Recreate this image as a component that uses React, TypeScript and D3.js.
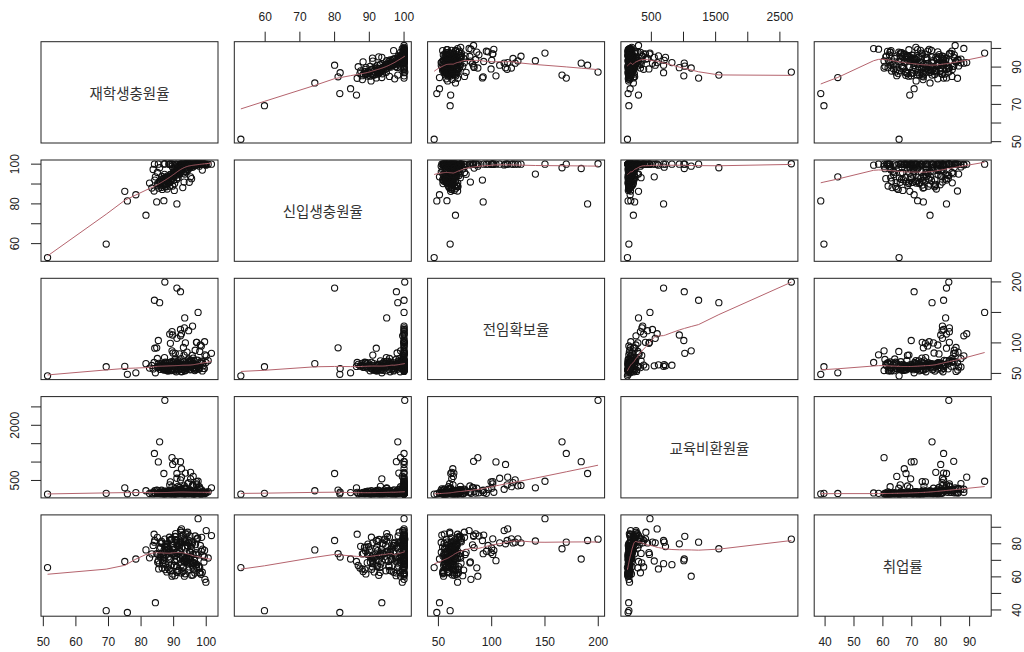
import React from 'react';
import * as d3 from 'd3';

// ---- data (one entry per university, same order in every array) ----
const varNames = ['재학생충원율', '신입생충원율', '전임확보율', '교육비환원율', '취업률'];

const enrolledRate = [
  51.3, 69.3, 75.8, 75.0, 78.4, 81.5, 84.4, 87.3, 85.7, 84.1,
  92.1, 91.0, 97.5, 93.4, 89.5, 90.5, 85.3, 89.7, 92.4, 99.9,
  101.6, 87.0, 84.8, 94.8, 95.2, 92.4, 87.0, 96.0, 91.0, 92.1,
  95.2, 93.6, 97.1, 89.0, 88.8, 89.5, 94.6, 93.3, 98.2, 99.5,
  92.1, 93.6, 84.2, 97.0, 95.8,
  88.5, 91.2, 94.7, 86.3, 97.8, 89.9, 92.6, 85.1, 95.3, 90.4,
  93.8, 87.6, 96.5, 91.9, 98.6, 88.1, 94.0, 86.9, 92.3, 97.1,
  90.8, 95.9, 89.2, 93.1, 98.9, 87.4, 91.5, 96.2, 85.8, 94.4,
  90.1, 97.5, 88.9, 93.5, 86.0, 95.0, 99.3, 91.0, 87.9, 94.9,
  92.0, 96.8, 89.6, 93.9, 85.4, 98.1, 90.6, 94.2, 88.2, 96.0,
  91.7, 87.1, 95.6, 92.9, 99.0, 89.4, 93.3, 86.6, 97.3, 90.9,
  94.6, 88.4, 96.9, 92.4, 85.6, 95.4, 90.3, 98.4, 87.8, 93.7,
  91.3, 96.4, 89.0, 94.8, 86.2, 97.7, 92.7, 88.7, 95.1, 90.0,
  99.6, 98.8, 100.0, 97.9, 83.3, 84.0, 82.6, 94.1, 96.6, 93.0,
  98.5, 91.8, 95.7, 87.2, 90.2, 92.8, 88.0, 86.4, 99.4, 100.6,
  97.0, 85.0, 93.2, 96.3, 89.8, 94.3, 91.4, 98.0, 83.7, 95.5,
  88.3, 91.6, 86.7, 94.5, 89.3, 92.2, 87.3, 95.8, 90.7, 85.9,
  93.4, 88.8, 91.1, 96.7, 87.0, 90.5, 94.0, 86.5, 92.5, 89.1,
  95.1, 88.0, 93.0, 90.3, 97.4, 86.8, 91.9, 89.7, 94.2, 87.5,
  92.8, 90.0, 95.5, 88.6, 93.6, 85.2, 91.4, 96.1, 89.4, 92.3,
  87.7, 94.9, 90.9, 86.1, 93.9,
];

const freshmanRate = [
  53.0, 59.8, 81.5, 86.3, 84.6, 74.3, 93.6, 100.2, 98.2, 100,
  97.8, 80.0, 100, 95.0, 99.0, 100, 100, 100, 100, 99.5,
  100, 81.6, 81.0, 90.9, 93.6, 100, 100, 99.5, 100, 100,
  100, 98.5, 100, 100, 100, 100, 100, 100, 100, 100,
  99.6, 100, 92.0, 100, 100,
  100, 96.4, 100, 92.5, 100, 94.1, 100, 90.3, 99.2, 97.7,
  100, 89.6, 100, 95.3, 100, 93.0, 100, 91.8, 98.6, 100,
  96.0, 100, 92.8, 99.0, 100, 88.7, 97.1, 100, 90.9, 100,
  95.7, 100, 94.6, 100, 89.1, 98.3, 100, 96.8, 91.4, 100,
  99.4, 100, 93.7, 100, 87.9, 100, 95.0, 100, 92.1, 99.8,
  97.5, 90.0, 100, 98.1, 100, 94.3, 100, 89.4, 100, 96.6,
  100, 93.4, 100, 98.9, 91.1, 100, 95.5, 100, 92.4, 100,
  97.9, 100, 94.8, 100, 88.3, 100, 99.1, 90.6, 100, 96.2,
  100, 97.0, 100, 99.0, 88.0, 86.5, 90.5, 100, 100, 100,
  100, 100, 99.7, 94.9, 86.8, 88.2, 87.5, 93.8, 100, 100,
  100, 95.8, 91.0, 100, 98.0, 100, 93.2, 100, 97.3, 92.7,
  93.5, 95.9, 90.8, 97.3, 92.2, 96.1, 89.8, 98.4, 94.4, 91.6,
  97.6, 88.9, 93.1, 99.3, 92.9, 95.2, 98.2, 87.3, 96.5, 91.3,
  98.8, 94.0, 95.6, 90.2, 99.6, 92.6, 97.0, 89.0, 96.9, 93.3,
  98.0, 91.9, 99.4, 90.7, 96.3, 89.5, 94.7, 99.0, 93.9, 97.8,
  88.6, 98.6, 92.3, 91.0, 96.0,
];

const facultyRate = [
  46.0, 61.0, 48.5, 61.5, 51.0, 66.0, 51.0, 199.8, 166.0, 170.0,
  184.0, 190.0, 150.0, 141.0, 87.0, 83.0, 104.0, 113.0, 115.0, 68.0,
  83.0, 58.0, 92.0, 57.0, 62.5, 63.5, 61.6, 64.0, 107.5, 122.0,
  62.5, 64.5, 101.0, 99.4, 114.5, 118.5, 120.0, 124.6, 96.6, 102.0,
  111.7, 100.0, 91.3, 101.0, 127.5,
  55.8, 64.2, 61.0, 63.5, 57.3, 66.9, 53.2, 59.1, 70.5, 72.8,
  58.7, 67.3, 54.6, 62.4, 69.9, 60.1, 65.6, 56.9, 74.3, 61.8,
  52.7, 63.1, 57.5, 59.9, 66.0, 68.4, 55.4, 71.2, 62.0, 64.8,
  56.3, 61.6, 60.5, 54.2, 65.3, 70.0, 58.2, 67.7, 55.1, 63.9,
  58.0, 59.4, 62.9, 61.3, 66.4, 68.8, 60.7, 57.7, 53.9, 75.1,
  60.9, 63.8, 67.0, 56.7, 62.2, 69.4, 54.8, 58.9, 71.6, 61.5,
  73.7, 62.6, 57.0, 52.6, 59.6, 65.1, 64.0, 66.7, 63.4, 55.6,
  65.9, 58.5, 54.5, 70.8, 61.9, 57.1, 62.8, 68.1, 56.0, 64.4,
  80.5, 54.0, 78.8, 59.5, 63.0, 68.0, 58.7, 85.0, 88.0, 92.5,
  95.0, 82.0, 79.5, 76.0, 64.8, 59.9, 61.8, 66.6, 58.0, 70.9,
  63.7, 74.5, 80.0, 56.2, 83.5, 60.6, 70.6, 86.0, 57.3, 65.0,
  60.3, 66.2, 57.8, 62.1, 54.9, 68.6, 63.2, 59.2, 65.4, 56.5,
  61.2, 67.8, 58.8, 64.6, 55.6, 70.2, 60.0, 62.4, 57.1, 66.0,
  63.0, 59.7, 69.1, 54.3, 61.9, 64.3, 58.3, 67.6, 62.7, 56.0,
  65.0, 60.9, 71.5, 58.0, 63.8, 61.3, 66.9, 59.0, 55.2, 64.9,
  60.1, 68.0, 57.6, 62.6, 65.7,
];

const eduReturnRate = [
  128, 150, 138, 300, 170, 220, 147, 2678, 1550, 1235,
  1012, 690, 478, 300, 1120, 1020, 1005, 935, 590, 160,
  300, 180, 240, 160, 545, 820, 690, 610, 560, 517,
  720, 700, 408, 462, 380, 330, 440, 353, 260, 180,
  261, 290, 220, 470, 365,
  182, 141, 168, 236, 150, 199, 270, 158, 176, 139,
  152, 212, 137, 171, 244, 160, 190, 147, 262, 165,
  174, 135, 225, 159, 196, 146, 241, 143, 168, 205,
  149, 178, 163, 140, 192, 253, 155, 218, 144, 186,
  230, 162, 187, 170, 151, 138, 282, 157, 209, 181,
  166, 197, 214, 148, 173, 237, 136, 156, 246, 164,
  145, 169, 185, 227, 153, 201, 161, 134, 193, 268,
  203, 160, 142, 233, 175, 154, 172, 221, 150, 188,
  150, 145, 178, 330, 160, 175, 146, 158, 165, 172,
  150, 310, 350, 205, 142, 156, 149, 168, 140, 195,
  380, 230, 187, 137, 198, 415, 340, 290, 141, 162,
  152, 171, 140, 184, 147, 193, 156, 166, 178, 143,
  161, 188, 149, 205, 139, 215, 158, 151, 145, 182,
  170, 148, 198, 137, 176, 163, 153, 190, 167, 141,
  180, 155, 226, 146, 173, 150, 186, 160, 138, 169,
  154, 195, 144, 158, 179,
];

const employmentRate = [
  65.6, 39.6, 38.5, 69.3, 70.8, 76.3, 44.4, 82.8, 77.0, 81.0,
  70.8, 82.0, 95.2, 81.7, 60.4, 84.5, 69.8, 80.0, 89.0, 56.8,
  85.0, 72.0, 74.0, 66.0, 69.6, 67.4, 68.0, 64.8, 80.6, 81.0,
  78.3, 81.0, 83.0, 74.7, 82.0, 83.0, 80.5, 83.0, 79.0, 76.0,
  88.0, 77.5, 82.0, 73.6, 80.6,
  77.2, 63.5, 70.8, 81.5, 66.1, 74.0, 85.3, 68.9, 72.4, 60.7,
  69.4, 79.8, 62.3, 75.6, 83.9, 65.7, 71.1, 73.8, 87.0, 67.5,
  74.9, 61.2, 82.6, 70.1, 76.8, 64.4, 80.2, 68.3, 72.7, 78.6,
  66.8, 73.2, 70.4, 61.9, 77.9, 84.7, 69.0, 79.1, 63.0, 75.3,
  81.0, 67.2, 75.0, 71.6, 64.8, 62.5, 86.2, 69.7, 78.0, 73.5,
  71.9, 76.3, 79.4, 65.5, 73.0, 82.8, 60.4, 68.6, 83.1, 70.7,
  64.1, 72.1, 74.6, 80.8, 67.9, 77.0, 69.3, 61.6, 75.9, 85.9,
  78.7, 70.0, 63.7, 81.9, 74.2, 66.5, 72.9, 84.0, 68.1, 76.4,
  58.5, 62.8, 88.0, 62.5, 73.9, 85.8, 71.5, 86.0, 84.7, 85.3,
  75.5, 79.4, 68.5, 74.8, 66.9, 63.2, 78.5, 80.4, 72.0, 71.4,
  66.0, 83.9, 69.0, 70.5, 77.7, 87.0, 74.2, 65.5, 79.0, 61.0,
  76.5, 63.9, 70.2, 80.9, 67.1, 73.3, 78.2, 66.6, 82.4, 71.8,
  69.5, 75.7, 62.7, 79.5, 73.1, 84.3, 68.4, 65.3, 77.4, 71.3,
  74.9, 80.0, 66.2, 72.6, 83.6, 69.9, 75.0, 61.8, 78.9, 67.8,
  72.1, 76.8, 81.2, 64.6, 70.6, 73.6, 79.1, 68.8, 74.0, 62.4,
  77.9, 71.0, 66.4, 80.6, 75.2,
];

// tick values for each variable, and which ones are labelled on each outer side
const tickValues = [
  [50, 60, 70, 80, 90, 100],
  [60, 70, 80, 90, 100],
  [50, 100, 150, 200],
  [500, 1000, 1500, 2000, 2500],
  [40, 50, 60, 70, 80, 90],
];
const topLabels: Record<number, number[]> = { 1: [60, 70, 80, 90, 100], 3: [500, 1500, 2500] };
const bottomLabels: Record<number, number[]> = { 0: [50, 60, 70, 80, 90, 100], 2: [50, 100, 150, 200], 4: [40, 50, 60, 70, 80, 90] };
const leftLabels: Record<number, number[]> = { 1: [60, 80, 100], 3: [500, 2000] };
const rightLabels: Record<number, number[]> = { 0: [50, 70, 90], 2: [50, 100, 200], 4: [40, 60, 80] };

// ---- layout ----
const W = 1024, H = 652;
const X0 = 41, DX = 193.3, PW = 177;
const Y0 = 41.7, DY = 118.3, PH = 101.3;
const TICK = 10;

const vars = [enrolledRate, freshmanRate, facultyRate, eduReturnRate, employmentRate];
const N = Math.min(...vars.map(v => v.length));
const data = vars.map(v => v.slice(0, N));

function expand(ext: [number, number]): [number, number] {
  const d = (ext[1] - ext[0]) * 0.04;
  return [ext[0] - d, ext[1] + d];
}

// R-style lowess (f = 2/3, iter = 3)
function lowess(xs: number[], ys: number[], f = 2 / 3, iter = 3): [number, number][] {
  const n = xs.length;
  const order = d3.range(n).sort((a, b) => xs[a] - xs[b]);
  const x = order.map(i => xs[i]);
  const y = order.map(i => ys[i]);
  const ns = Math.max(2, Math.min(n, Math.floor(f * n + 1e-7)));
  const range = x[n - 1] - x[0];
  let rw = new Array(n).fill(1);
  const fit = new Array(n).fill(0);
  for (let it = 0; it <= iter; it++) {
    let nleft = 0, nright = ns - 1;
    for (let i = 0; i < n; i++) {
      const xi = x[i];
      while (nright < n - 1 && xi - x[nleft] > x[nright + 1] - xi) { nleft++; nright++; }
      const h = Math.max(xi - x[nleft], x[nright] - xi);
      const h9 = 0.999 * h, h1 = 0.001 * h;
      const w: number[] = [];
      const js: number[] = [];
      let a = 0;
      for (let j = nleft; j < n; j++) {
        const r = Math.abs(x[j] - xi);
        if (r <= h9) {
          let wj = r <= h1 ? 1 : Math.pow(1 - Math.pow(r / h, 3), 3);
          wj *= rw[j];
          w.push(wj); js.push(j); a += wj;
        } else if (x[j] > xi) break;
      }
      if (a <= 0) { fit[i] = y[i]; continue; }
      for (let k = 0; k < w.length; k++) w[k] /= a;
      if (h > 0) {
        let mx = 0;
        for (let k = 0; k < w.length; k++) mx += w[k] * x[js[k]];
        let c = 0;
        for (let k = 0; k < w.length; k++) c += w[k] * (x[js[k]] - mx) ** 2;
        if (Math.sqrt(c) > 0.001 * range) {
          const b = (xi - mx) / c;
          for (let k = 0; k < w.length; k++) w[k] *= b * (x[js[k]] - mx) + 1;
        }
      }
      let s = 0;
      for (let k = 0; k < w.length; k++) s += w[k] * y[js[k]];
      fit[i] = s;
    }
    if (it === iter) break;
    const res = y.map((v, i) => v - fit[i]);
    const cmad = 6 * (d3.median(res.map(Math.abs)) as number);
    if (cmad < 1e-7) break;
    rw = res.map(r => {
      const ar = Math.abs(r);
      if (ar <= 0.001 * cmad) return 1;
      if (ar > 0.999 * cmad) return 0;
      return (1 - (ar / cmad) ** 2) ** 2;
    });
  }
  return x.map((v, i) => [v, fit[i]]);
}

const AXIS_FONT = "'Liberation Sans', Arial, sans-serif";
const LABEL_FONT = "'Noto Sans CJK KR', 'Noto Sans', sans-serif";
const INK = '#222';
const SMOOTH = '#b5646e';

export default function App() {
  const xs = data.map((v, k) =>
    d3.scaleLinear().domain(expand(d3.extent(v) as [number, number])).range([X0 + k * DX, X0 + k * DX + PW]));
  const ys = data.map((v, k) =>
    d3.scaleLinear().domain(expand(d3.extent(v) as [number, number])).range([Y0 + k * DY + PH, Y0 + k * DY]));

  const panels: React.ReactNode[] = [];
  const K = data.length;
  for (let i = 0; i < K; i++) {
    for (let j = 0; j < K; j++) {
      const px = X0 + j * DX, py = Y0 + i * DY;
      if (i === j) {
        panels.push(
          <g key={`d${i}`}>
            <rect x={px} y={py} width={PW} height={PH} fill="none" stroke={INK} strokeWidth={1} />
            <text x={px + PW / 2} y={py + PH / 2} textAnchor="middle" dominantBaseline="central"
              fontFamily={LABEL_FONT} fontSize={14.5} fill="#333">{varNames[i]}</text>
          </g>
        );
        continue;
      }
      const sx = xs[j], sy = ys[i];
      const smooth = lowess(data[j], data[i]);
      const line = d3.line<[number, number]>().x(d => sx(d[0])).y(d => sy(d[1]));
      panels.push(
        <g key={`p${i}-${j}`}>
          {data[j].map((xv, k) => (
            <circle key={k} cx={sx(xv)} cy={sy(data[i][k])} r={3.1} fill="none" stroke="#111" strokeWidth={1.1} />
          ))}
          <path d={line(smooth) || ''} fill="none" stroke={SMOOTH} strokeWidth={1} />
          <rect x={px} y={py} width={PW} height={PH} fill="none" stroke={INK} strokeWidth={1} />
        </g>
      );
    }
  }

  const axes: React.ReactNode[] = [];
  // top axes
  Object.keys(topLabels).forEach(key => {
    const j = +key; const sx = xs[j]; const yb = Y0;
    tickValues[j].forEach(t => axes.push(
      <line key={`tt${j}-${t}`} x1={sx(t)} x2={sx(t)} y1={yb} y2={yb - TICK} stroke={INK} />));
    topLabels[j].forEach(t => axes.push(
      <text key={`tl${j}-${t}`} x={sx(t)} y={yb - 25} textAnchor="middle" dominantBaseline="central"
        fontFamily={AXIS_FONT} fontSize={12} fill={INK}>{t}</text>));
  });
  // bottom axes
  Object.keys(bottomLabels).forEach(key => {
    const j = +key; const sx = xs[j]; const yb = Y0 + (K - 1) * DY + PH;
    tickValues[j].forEach(t => axes.push(
      <line key={`bt${j}-${t}`} x1={sx(t)} x2={sx(t)} y1={yb} y2={yb + TICK} stroke={INK} />));
    bottomLabels[j].forEach(t => axes.push(
      <text key={`bl${j}-${t}`} x={sx(t)} y={yb + 26} textAnchor="middle" dominantBaseline="central"
        fontFamily={AXIS_FONT} fontSize={12} fill={INK}>{t}</text>));
  });
  // left axes
  Object.keys(leftLabels).forEach(key => {
    const i = +key; const sy = ys[i]; const xb = X0;
    tickValues[i].forEach(t => axes.push(
      <line key={`lt${i}-${t}`} x1={xb} x2={xb - TICK} y1={sy(t)} y2={sy(t)} stroke={INK} />));
    leftLabels[i].forEach(t => axes.push(
      <text key={`ll${i}-${t}`} transform={`translate(${xb - 26},${sy(t)}) rotate(-90)`} textAnchor="middle"
        dominantBaseline="central" fontFamily={AXIS_FONT} fontSize={12} fill={INK}>{t}</text>));
  });
  // right axes
  Object.keys(rightLabels).forEach(key => {
    const i = +key; const sy = ys[i]; const xb = X0 + (K - 1) * DX + PW;
    tickValues[i].forEach(t => axes.push(
      <line key={`rt${i}-${t}`} x1={xb} x2={xb + TICK} y1={sy(t)} y2={sy(t)} stroke={INK} />));
    rightLabels[i].forEach(t => axes.push(
      <text key={`rl${i}-${t}`} transform={`translate(${xb + 26},${sy(t)}) rotate(-90)`} textAnchor="middle"
        dominantBaseline="central" fontFamily={AXIS_FONT} fontSize={12} fill={INK}>{t}</text>));
  });

  return (
    <div style={{ position: 'fixed', left: 0, top: 0, width: W, height: H, background: '#fff' }}>
      <svg width={W} height={H} viewBox={`0 0 ${W} ${H}`} style={{ display: 'block' }}>
        <rect x={0} y={0} width={W} height={H} fill="#fff" />
        {panels}
        {axes}
      </svg>
    </div>
  );
}
